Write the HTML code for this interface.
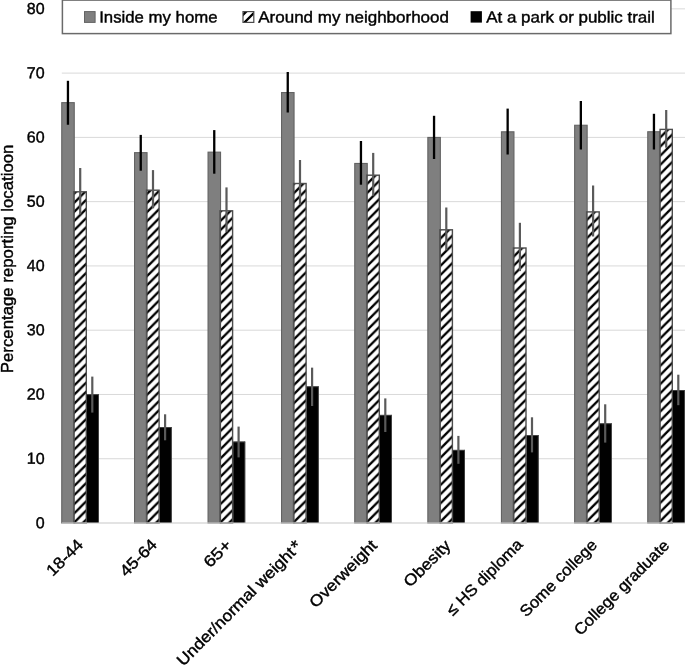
<!DOCTYPE html>
<html><head><meta charset="utf-8"><title>chart</title>
<style>
html,body{margin:0;padding:0;background:#fff;}
body{width:685px;height:665px;overflow:hidden;}
svg{display:block;will-change:transform;opacity:0.9999;}
text{font-family:"Liberation Sans",sans-serif;fill:#000;stroke:#000;stroke-width:0.4px;}
</style></head><body>
<svg width="685" height="665" viewBox="0 0 685 665">
<defs>
<pattern id="hat" patternUnits="userSpaceOnUse" x="2.830" y="0.000" width="9.136" height="9.136">
<rect x="0" y="0" width="9.136" height="9.136" fill="#fff"/>
<path d="M-9.136 18.272 L18.272 -9.136 M-9.136 9.136 L9.136 -9.136 M0.000 18.272 L18.272 0.000" stroke="#000" stroke-width="2.35" fill="none"/>
</pattern>
</defs>
<rect x="0" y="0" width="685" height="665" fill="#fff"/>

<rect x="61.8" y="522.50" width="624" height="1" fill="#d9d9d9"/>
<rect x="61.8" y="458.23" width="624" height="1" fill="#d9d9d9"/>
<rect x="61.8" y="393.96" width="624" height="1" fill="#d9d9d9"/>
<rect x="61.8" y="329.69" width="624" height="1" fill="#d9d9d9"/>
<rect x="61.8" y="265.42" width="624" height="1" fill="#d9d9d9"/>
<rect x="61.8" y="201.15" width="624" height="1" fill="#d9d9d9"/>
<rect x="61.8" y="136.88" width="624" height="1" fill="#d9d9d9"/>
<rect x="61.8" y="72.61" width="624" height="1" fill="#d9d9d9"/>
<rect x="61.8" y="8.34" width="624" height="1" fill="#d9d9d9"/>
<rect x="61.75" y="102.65" width="12.50" height="420.35" fill="#7f7f7f" stroke="#636363" stroke-width="1.1"/>
<rect x="72.95" y="191.10" width="0.8" height="331.90" fill="#5c5c5c"/>
<rect x="74.10" y="191.80" width="12.20" height="331.20" fill="url(#hat)" stroke="#4c4c4c" stroke-width="1.4"/>
<rect x="86.95" y="394.30" width="11.95" height="128.70" fill="#000"/>
<rect x="86.95" y="394.30" width="11.95" height="0.8" fill="#4d4d4d"/>
<rect x="98.10" y="394.30" width="0.8" height="128.70" fill="#4d4d4d"/>
<rect x="66.80" y="80.80" width="2.3" height="43.95" fill="#000"/>
<rect x="79.10" y="168.00" width="2.2" height="46.40" fill="#5a5a5a"/>
<rect x="91.20" y="376.60" width="2.2" height="36.00" fill="#5a5a5a"/>
<rect x="134.55" y="152.65" width="12.50" height="370.35" fill="#7f7f7f" stroke="#636363" stroke-width="1.1"/>
<rect x="145.75" y="189.50" width="0.8" height="333.50" fill="#5c5c5c"/>
<rect x="146.90" y="190.20" width="12.20" height="332.80" fill="url(#hat)" stroke="#4c4c4c" stroke-width="1.4"/>
<rect x="159.75" y="427.00" width="11.95" height="96.00" fill="#000"/>
<rect x="159.75" y="427.00" width="11.95" height="0.8" fill="#4d4d4d"/>
<rect x="170.90" y="427.00" width="0.8" height="96.00" fill="#4d4d4d"/>
<rect x="139.60" y="134.90" width="2.3" height="35.80" fill="#000"/>
<rect x="151.90" y="170.10" width="2.2" height="38.20" fill="#5a5a5a"/>
<rect x="164.00" y="414.30" width="2.2" height="26.00" fill="#5a5a5a"/>
<rect x="208.05" y="152.15" width="12.50" height="370.85" fill="#7f7f7f" stroke="#636363" stroke-width="1.1"/>
<rect x="219.25" y="210.10" width="0.8" height="312.90" fill="#5c5c5c"/>
<rect x="220.40" y="210.80" width="12.20" height="312.20" fill="url(#hat)" stroke="#4c4c4c" stroke-width="1.4"/>
<rect x="233.25" y="441.60" width="11.95" height="81.40" fill="#000"/>
<rect x="233.25" y="441.60" width="11.95" height="0.8" fill="#4d4d4d"/>
<rect x="244.40" y="441.60" width="0.8" height="81.40" fill="#4d4d4d"/>
<rect x="213.10" y="130.10" width="2.3" height="43.60" fill="#000"/>
<rect x="225.40" y="187.40" width="2.2" height="44.80" fill="#5a5a5a"/>
<rect x="237.50" y="426.60" width="2.2" height="30.80" fill="#5a5a5a"/>
<rect x="281.55" y="92.55" width="12.50" height="430.45" fill="#7f7f7f" stroke="#636363" stroke-width="1.1"/>
<rect x="292.75" y="182.80" width="0.8" height="340.20" fill="#5c5c5c"/>
<rect x="293.90" y="183.50" width="12.20" height="339.50" fill="url(#hat)" stroke="#4c4c4c" stroke-width="1.4"/>
<rect x="306.75" y="386.40" width="11.95" height="136.60" fill="#000"/>
<rect x="306.75" y="386.40" width="11.95" height="0.8" fill="#4d4d4d"/>
<rect x="317.90" y="386.40" width="0.8" height="136.60" fill="#4d4d4d"/>
<rect x="286.60" y="72.00" width="2.3" height="40.50" fill="#000"/>
<rect x="298.90" y="160.00" width="2.2" height="44.50" fill="#5a5a5a"/>
<rect x="311.00" y="367.65" width="2.2" height="38.35" fill="#5a5a5a"/>
<rect x="354.75" y="163.45" width="12.50" height="359.55" fill="#7f7f7f" stroke="#636363" stroke-width="1.1"/>
<rect x="365.95" y="174.50" width="0.8" height="348.50" fill="#5c5c5c"/>
<rect x="367.10" y="175.20" width="12.20" height="347.80" fill="url(#hat)" stroke="#4c4c4c" stroke-width="1.4"/>
<rect x="379.95" y="414.90" width="11.95" height="108.10" fill="#000"/>
<rect x="379.95" y="414.90" width="11.95" height="0.8" fill="#4d4d4d"/>
<rect x="391.10" y="414.90" width="0.8" height="108.10" fill="#4d4d4d"/>
<rect x="359.80" y="141.00" width="2.3" height="43.70" fill="#000"/>
<rect x="372.10" y="152.90" width="2.2" height="42.80" fill="#5a5a5a"/>
<rect x="384.20" y="398.40" width="2.2" height="33.60" fill="#5a5a5a"/>
<rect x="427.85" y="137.45" width="12.50" height="385.55" fill="#7f7f7f" stroke="#636363" stroke-width="1.1"/>
<rect x="439.05" y="229.10" width="0.8" height="293.90" fill="#5c5c5c"/>
<rect x="440.20" y="229.80" width="12.20" height="293.20" fill="url(#hat)" stroke="#4c4c4c" stroke-width="1.4"/>
<rect x="453.05" y="449.90" width="11.95" height="73.10" fill="#000"/>
<rect x="453.05" y="449.90" width="11.95" height="0.8" fill="#4d4d4d"/>
<rect x="464.20" y="449.90" width="0.8" height="73.10" fill="#4d4d4d"/>
<rect x="432.90" y="115.80" width="2.3" height="43.20" fill="#000"/>
<rect x="445.20" y="207.50" width="2.2" height="42.70" fill="#5a5a5a"/>
<rect x="457.30" y="435.90" width="2.2" height="27.90" fill="#5a5a5a"/>
<rect x="501.45" y="131.80" width="12.50" height="391.20" fill="#7f7f7f" stroke="#636363" stroke-width="1.1"/>
<rect x="512.65" y="247.30" width="0.8" height="275.70" fill="#5c5c5c"/>
<rect x="513.80" y="248.00" width="12.20" height="275.00" fill="url(#hat)" stroke="#4c4c4c" stroke-width="1.4"/>
<rect x="526.65" y="435.10" width="11.95" height="87.90" fill="#000"/>
<rect x="526.65" y="435.10" width="11.95" height="0.8" fill="#4d4d4d"/>
<rect x="537.80" y="435.10" width="0.8" height="87.90" fill="#4d4d4d"/>
<rect x="506.50" y="108.60" width="2.3" height="45.90" fill="#000"/>
<rect x="518.80" y="222.80" width="2.2" height="48.30" fill="#5a5a5a"/>
<rect x="530.90" y="417.30" width="2.2" height="35.10" fill="#5a5a5a"/>
<rect x="574.65" y="125.25" width="12.50" height="397.75" fill="#7f7f7f" stroke="#636363" stroke-width="1.1"/>
<rect x="585.85" y="211.20" width="0.8" height="311.80" fill="#5c5c5c"/>
<rect x="587.00" y="211.90" width="12.20" height="311.10" fill="url(#hat)" stroke="#4c4c4c" stroke-width="1.4"/>
<rect x="599.85" y="423.40" width="11.95" height="99.60" fill="#000"/>
<rect x="599.85" y="423.40" width="11.95" height="0.8" fill="#4d4d4d"/>
<rect x="611.00" y="423.40" width="0.8" height="99.60" fill="#4d4d4d"/>
<rect x="579.70" y="101.00" width="2.3" height="48.50" fill="#000"/>
<rect x="592.00" y="185.50" width="2.2" height="51.00" fill="#5a5a5a"/>
<rect x="604.10" y="404.30" width="2.2" height="38.30" fill="#5a5a5a"/>
<rect x="647.75" y="131.75" width="12.50" height="391.25" fill="#7f7f7f" stroke="#636363" stroke-width="1.1"/>
<rect x="658.95" y="131.20" width="0.8" height="391.80" fill="#5c5c5c"/>
<rect x="660.10" y="129.40" width="12.20" height="393.60" fill="url(#hat)" stroke="#4c4c4c" stroke-width="1.4"/>
<rect x="672.95" y="390.00" width="11.95" height="133.00" fill="#000"/>
<rect x="672.95" y="390.00" width="11.95" height="0.8" fill="#4d4d4d"/>
<rect x="684.10" y="390.00" width="0.8" height="133.00" fill="#4d4d4d"/>
<rect x="652.80" y="113.80" width="2.3" height="35.70" fill="#000"/>
<rect x="665.10" y="110.00" width="2.2" height="37.70" fill="#5a5a5a"/>
<rect x="677.20" y="374.70" width="2.2" height="30.50" fill="#5a5a5a"/>
<rect x="61.8" y="522.50" width="624" height="1" fill="#d9d9d9"/>
<rect x="62.4" y="0.1" width="608.5" height="33.5" fill="#fff" stroke="#6a6a6a" stroke-width="1.5"/>
<rect x="84.5" y="11.6" width="10.6" height="10.8" fill="#7f7f7f" stroke="#636363" stroke-width="1.0"/>
<clipPath id="sw"><rect x="243.0" y="11.6" width="10.8" height="10.8"/></clipPath><g><rect x="243.0" y="11.6" width="10.8" height="10.8" fill="#fff"/><g clip-path="url(#sw)"><path d="M240 26.9 L256 10.9 M236 21.8 L250 7.8" stroke="#000" stroke-width="2.4" fill="none"/></g><rect x="243.0" y="11.6" width="10.8" height="10.8" fill="none" stroke="#4a4a4a" stroke-width="1.2"/></g>
<rect x="470.6" y="11.2" width="11.3" height="11.4" fill="#000"/>
<text transform="translate(99.2,22.4) rotate(0.03)" font-size="16" textLength="118.3" lengthAdjust="spacingAndGlyphs">Inside my home</text>
<text transform="translate(258.3,22.4) rotate(0.03)" font-size="16" textLength="190.6" lengthAdjust="spacingAndGlyphs">Around my neighborhood</text>
<text transform="translate(486.2,22.4) rotate(0.03)" font-size="16" textLength="168.6" lengthAdjust="spacingAndGlyphs">At a park or public trail</text>
<text transform="translate(44.6,528.15) rotate(0.03)" font-size="16" text-anchor="end">0</text>
<text transform="translate(44.6,463.88) rotate(0.03)" font-size="16" text-anchor="end">10</text>
<text transform="translate(44.6,399.61) rotate(0.03)" font-size="16" text-anchor="end">20</text>
<text transform="translate(44.6,335.34) rotate(0.03)" font-size="16" text-anchor="end">30</text>
<text transform="translate(44.6,271.07) rotate(0.03)" font-size="16" text-anchor="end">40</text>
<text transform="translate(44.6,206.80) rotate(0.03)" font-size="16" text-anchor="end">50</text>
<text transform="translate(44.6,142.53) rotate(0.03)" font-size="16" text-anchor="end">60</text>
<text transform="translate(44.6,78.26) rotate(0.03)" font-size="16" text-anchor="end">70</text>
<text transform="translate(44.6,13.99) rotate(0.03)" font-size="16" text-anchor="end">80</text>
<text transform="translate(13.2,373.2) rotate(-90)" font-size="16" textLength="228.6" lengthAdjust="spacingAndGlyphs">Percentage reporting locatioon</text>
<text transform="translate(84.20,545.60) rotate(-45)" font-size="16" text-anchor="end" textLength="44.5" lengthAdjust="spacingAndGlyphs">18-44</text>
<text transform="translate(158.00,545.60) rotate(-45)" font-size="16" text-anchor="end" textLength="45.0" lengthAdjust="spacingAndGlyphs">45-64</text>
<text transform="translate(232.50,546.00) rotate(-45)" font-size="16" text-anchor="end" textLength="31.9" lengthAdjust="spacingAndGlyphs">65+</text>
<text transform="translate(296.40,553.70) rotate(-45)" font-size="16" text-anchor="end" textLength="159.9" lengthAdjust="spacingAndGlyphs">Under/normal weight</text>
<text transform="translate(378.00,546.50) rotate(-45)" font-size="16" text-anchor="end" textLength="87.9" lengthAdjust="spacingAndGlyphs">Overweight</text>
<text transform="translate(451.70,546.50) rotate(-45)" font-size="16" text-anchor="end" textLength="58.8" lengthAdjust="spacingAndGlyphs">Obesity</text>
<text transform="translate(523.70,545.50) rotate(-45)" font-size="16" text-anchor="end" textLength="100.4" lengthAdjust="spacingAndGlyphs">≤ HS diploma</text>
<text transform="translate(598.10,546.00) rotate(-45)" font-size="16" text-anchor="end" textLength="101.5" lengthAdjust="spacingAndGlyphs">Some college</text>
<text transform="translate(670.20,546.50) rotate(-45)" font-size="16" text-anchor="end" textLength="126.8" lengthAdjust="spacingAndGlyphs">College graduate</text>
<text transform="translate(296.3,553.8) rotate(-45)" font-size="19" x="1.9" y="1.0">*</text>
</svg></body></html>
